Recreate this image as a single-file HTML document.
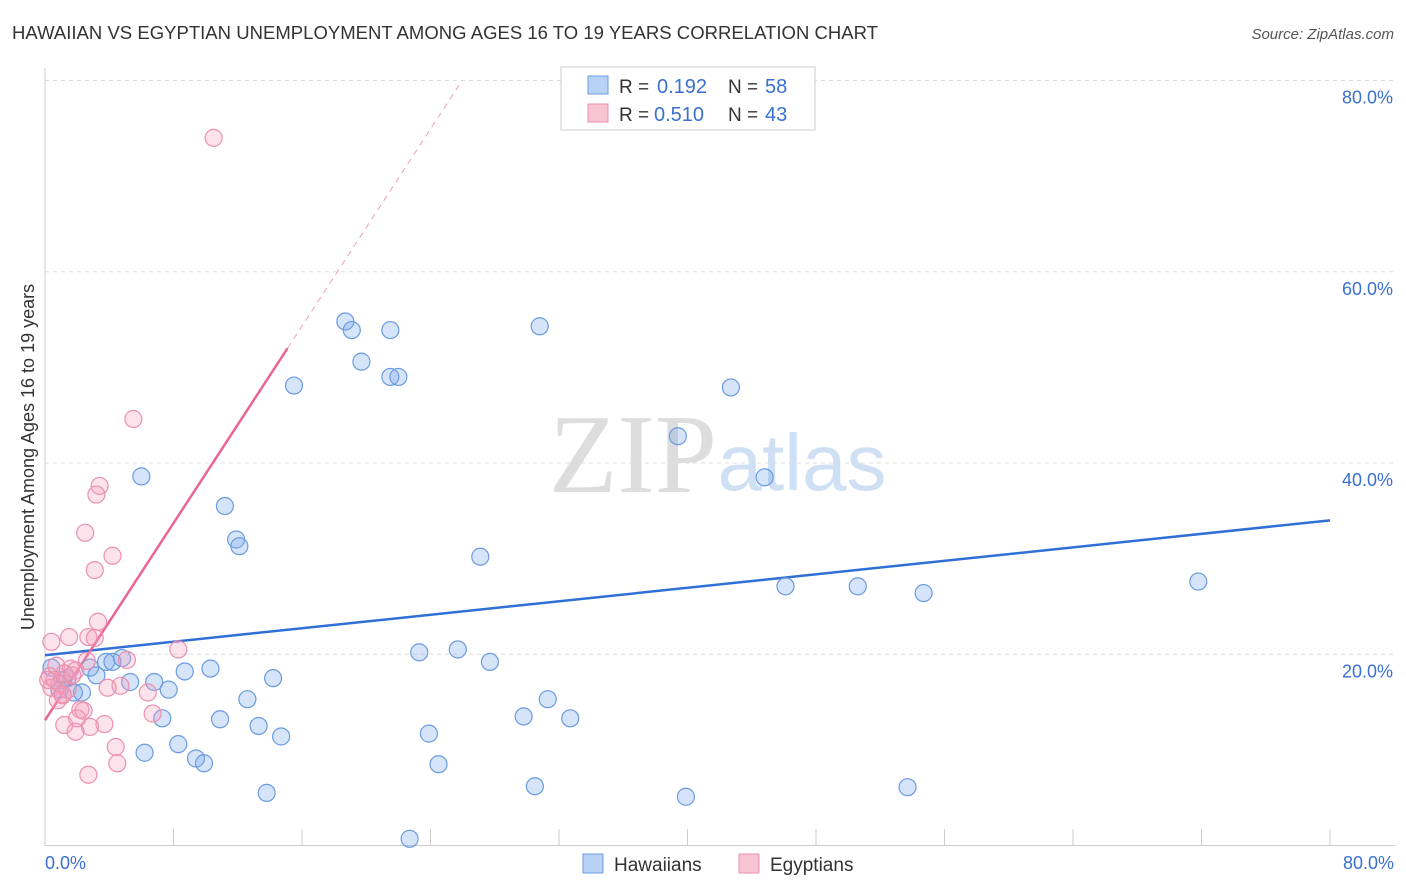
<!DOCTYPE html>
<html><head><meta charset="utf-8"><style>
body{margin:0;background:#fff;font-family:"Liberation Sans",sans-serif}
svg{display:block}
</style></head><body>
<svg id="chart" width="1406" height="892">
<text x="12" y="39" font-size="18.5" fill="#333" textLength="866">HAWAIIAN VS EGYPTIAN UNEMPLOYMENT AMONG AGES 16 TO 19 YEARS CORRELATION CHART</text>
<text x="1394" y="39" font-size="15" fill="#555" font-style="italic" text-anchor="end">Source: ZipAtlas.com</text>
<text x="633" y="492" font-size="112" fill="#ddd" font-family="Liberation Serif,serif" text-anchor="middle">ZIP</text>
<text x="802" y="490" font-size="80" fill="#cfe0f5" text-anchor="middle">atlas</text>
<g id="grid"></g>
<g id="axes"></g>
<g id="lines"></g>
<g id="pts"></g>
<text transform="translate(34,457) rotate(-90)" font-size="18" fill="#333" text-anchor="middle">Unemployment Among Ages 16 to 19 years</text>
<text x="45" y="869" font-size="18" fill="#3a70d0">0.0%</text>
<text x="1394" y="869" font-size="18" fill="#3a70d0" text-anchor="end">80.0%</text>
<g>
<rect x="561" y="67" width="254" height="63" fill="#fff" stroke="#ccc"/>
<rect x="588" y="76" width="20" height="18" fill="#b8d2f5" stroke="#6a9be0"/>
<rect x="588" y="104" width="20" height="18" fill="#f8c4d4" stroke="#ec90ad"/>
<text x="619" y="93" font-size="19" fill="#333">R =</text>
<text x="657" y="93" font-size="20" fill="#3a70d0">0.192</text>
<text x="728" y="93" font-size="19" fill="#333">N =</text>
<text x="765" y="93" font-size="20" fill="#3a70d0">58</text>
<text x="619" y="121" font-size="19" fill="#333">R =</text>
<text x="654" y="121" font-size="20" fill="#3a70d0">0.510</text>
<text x="728" y="121" font-size="19" fill="#333">N =</text>
<text x="765" y="121" font-size="20" fill="#3a70d0">43</text>
</g>
<g>
<rect x="583" y="854" width="20" height="19" fill="#b8d2f5" stroke="#6a9be0"/>
<text x="614" y="871" font-size="19" fill="#333">Hawaiians</text>
<rect x="739" y="854" width="20" height="19" fill="#f8c4d4" stroke="#ec90ad"/>
<text x="770" y="871" font-size="19" fill="#333">Egyptians</text>
</g>
</svg>
<script>
const yTicks=[20,40,60,80];
const yTickLabels=["20.0%","40.0%","60.0%","80.0%"];
const xTicks=[0,8,16,24,32,40,48,56,64,72,80];
const blueX=[18.7,19.1,21.5,30.8,19.7,21.5,22.0,15.5,42.7,39.4,6.0,44.8,11.2,11.9,12.1,27.1,46.1,50.6,54.7,71.8,23.3,25.7,27.7,3.8,4.2,4.8,10.3,8.7,14.2,0.4,2.8,3.2,1.1,1.4,5.3,6.8,0.9,1.8,2.3,7.7,12.6,31.3,7.3,10.9,29.8,32.7,13.3,14.7,23.9,8.3,6.2,9.4,9.9,24.5,30.5,53.7,13.8,39.9,22.7];
const blueY=[54.8,53.9,53.9,54.3,50.6,49.0,49.0,48.1,47.9,42.8,38.6,38.5,35.5,32.0,31.3,30.2,27.1,27.1,26.4,27.6,20.2,20.5,19.2,19.2,19.2,19.6,18.5,18.2,17.5,18.6,18.6,17.8,17.3,17.5,17.1,17.1,16.3,16.0,16.0,16.3,15.3,15.3,13.3,13.2,13.5,13.3,12.5,11.4,11.7,10.6,9.7,9.1,8.6,8.5,6.2,6.1,5.5,5.1,0.7];
const pinkX=[10.5,5.5,3.4,3.2,2.5,4.2,3.1,3.3,1.5,0.4,2.7,3.1,8.3,5.1,2.6,0.7,1.6,1.9,1.2,0.3,0.6,0.9,0.4,4.7,3.9,6.4,1.1,1.4,0.8,6.7,2.2,2.4,2.0,3.7,1.2,2.8,1.9,4.4,4.5,2.7,0.2,1.7,1.1];
const pinkY=[74.0,44.6,37.6,36.7,32.7,30.3,28.8,23.4,21.8,21.3,21.8,21.7,20.5,19.4,19.3,18.8,18.5,18.3,18.0,17.7,17.3,16.9,16.5,16.7,16.5,16.0,15.7,16.3,15.2,13.8,14.2,14.1,13.3,12.7,12.6,12.4,11.9,10.3,8.6,7.4,17.3,17.8,15.8];
const blueTrend=[19.9,34.0];
const pinkTrend=[13.1,52.0];
const NS="http://www.w3.org/2000/svg";
const X=v=>45+v*16.0625, Y=v=>845.5-v*9.5625;
function mk(tag,attrs,parent){const e=document.createElementNS(NS,tag);for(const k in attrs)e.setAttribute(k,attrs[k]);document.getElementById(parent).appendChild(e);return e;}
yTicks.forEach((t,i)=>{
 const g=mk('line',{x1:45,x2:1395,y1:Y(t),y2:Y(t),stroke:'#ddd','stroke-dasharray':'4,4'},'grid');
 
 
 const l=mk('text',{x:1393,y:Y(t)+23,'font-size':18,fill:'#3a70d0','text-anchor':'end','font-family':'Liberation Sans,sans-serif'},'grid');
 l.textContent=yTickLabels[i];
 
 
});
const ax=mk('line',{x1:45,x2:45,y1:68,y2:846,stroke:'#ccc'},'axes');


const bx=mk('line',{x1:45,x2:1395,y1:845.5,y2:845.5,stroke:'#ccc'},'axes');


xTicks.forEach(t=>{
 const e=mk('line',{x1:X(t),x2:X(t),y1:829,y2:846,stroke:'#ccc'},'axes');
 
 
});
const bl=mk('line',{x1:X(0),y1:Y(blueTrend[0]),x2:X(80),y2:Y(blueTrend[1]),stroke:'#2f6fd6','stroke-width':2.5},'lines');


const ps=(pinkTrend[1]-pinkTrend[0])/15.1;
const pl=mk('line',{x1:X(0),y1:Y(pinkTrend[0]),x2:X(15.1),y2:Y(pinkTrend[1]),stroke:'#e8668f','stroke-width':2.5},'lines');


const xe=Math.min((80-pinkTrend[0])/ps,26);
const pd=mk('line',{x1:X(15.1),y1:Y(pinkTrend[1]),x2:X(xe),y2:Y(pinkTrend[0]+ps*xe),stroke:'#eaa0b8','stroke-width':1,'stroke-dasharray':'6,5'},'lines');


blueX.forEach((v,i)=>{
 const c=mk('circle',{cx:X(v),cy:Y(blueY[i]),r:8.5,fill:'rgba(120,165,235,0.3)',stroke:'#6a9be0','stroke-width':1.2},'pts');
 
 
});
pinkX.forEach((v,i)=>{
 const c=mk('circle',{cx:X(v),cy:Y(pinkY[i]),r:8.5,fill:'rgba(245,160,190,0.3)',stroke:'#ec90ad','stroke-width':1.2},'pts');
 
 
});
</script>
</body></html>
